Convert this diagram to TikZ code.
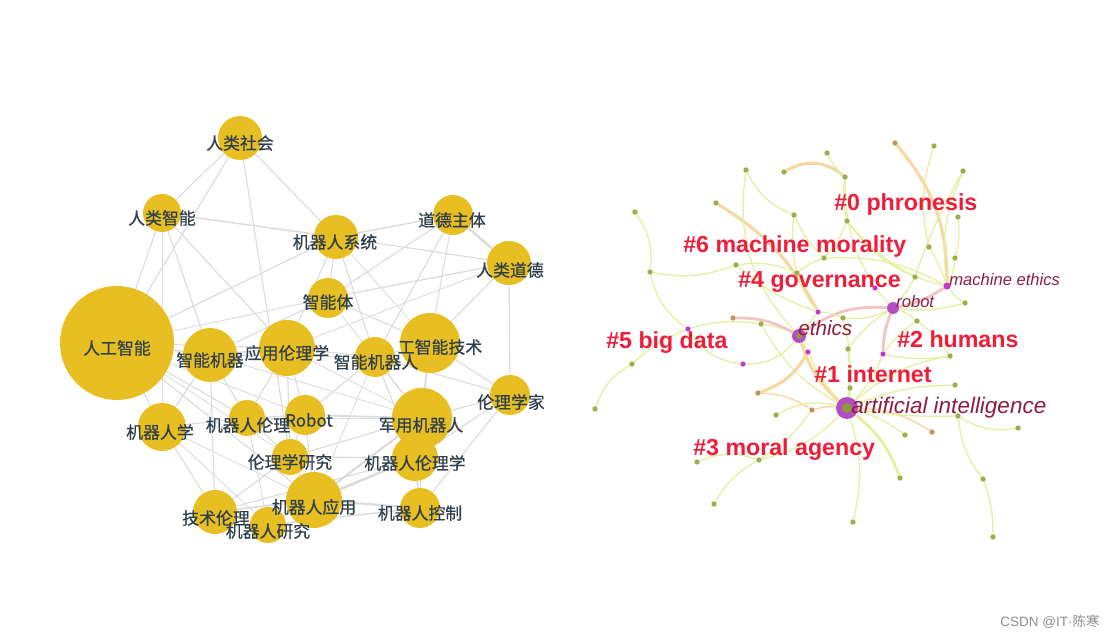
\documentclass[tikz,border=0pt]{standalone}
\usepackage{fontspec}
\setmainfont{Liberation Sans}
\newfontfamily\cjk[FakeBold=0.5]{Noto Sans CJK SC}
\newfontfamily\cjkplain{Noto Sans CJK SC}
\usetikzlibrary{backgrounds}
\definecolor{cgold}{HTML}{E8BF22}
\definecolor{cslate}{HTML}{2E3E4A}
\definecolor{cedge}{HTML}{DCDCDC}
\definecolor{chot}{HTML}{EE1D3A}
\definecolor{cwine}{HTML}{8E1E40}
\definecolor{clime}{HTML}{E3F0A0}
\definecolor{cpeach}{HTML}{F6D8A2}
\definecolor{crose}{HTML}{F3C4C4}
\definecolor{cleaf}{HTML}{9CAF48}
\definecolor{cleafb}{HTML}{B49C5C}
\definecolor{chub}{HTML}{B54DC2}
\definecolor{ccore}{HTML}{8C9A3A}
\definecolor{chit}{HTML}{C838C8}

\begin{document}
\begin{tikzpicture}[x=0.25mm,y=-0.25mm,
  kw/.style={circle,fill=cgold,inner sep=0pt,minimum size=#1*0.5mm},
  kwlab/.style={font=\cjk\fontsize{12}{14}\selectfont,text=cslate,inner sep=0pt},
  link/.style={draw=cedge,line width=#1},
  leaf/.style={circle,fill=cleaf,inner sep=0pt,minimum size=1.35mm},
  leafb/.style={leaf,fill=cleafb},
  hit/.style={circle,fill=chit,inner sep=0pt,minimum size=1.3mm},
  hubv/.style={circle,fill=chub,inner sep=0pt,minimum size=#1},
  core/.style={circle,fill=ccore,inner sep=0pt,minimum size=#1},
  ylw/.style={draw=clime,line width=0.9pt},
  ylwk/.style={draw=clime,line width=2pt},
  peach/.style={draw=cpeach,line width=1pt},
  peachk/.style={draw=cpeach,line width=2.2pt},
  rosek/.style={draw=crose,line width=2pt},
  clus/.style={font=\bfseries\fontsize{16.5}{18}\selectfont,text=chot,anchor=base west,inner sep=0pt},
  term/.style={font=\itshape\fontsize{#1}{#1}\selectfont,text=cwine,anchor=base west,inner sep=0pt}
]
\useasboundingbox (0,0) rectangle (1119,642);
\begin{scope}[on background layer]
\fill[white] (0,0) rectangle (1119,642);
\end{scope}

% keyword network
\foreach \n/\x/\y/\r in {rs/240/138/22, rz/162/213/19, jx/336/237/22, dd/453/215/20,
  rd/509/263/22, znt/328/298/20, rg/117/343/57, znj/210/355/27, yl/287/348/28,
  znr/375/357/20, rgj/430/343/30, llj/510/395/20, jrx/162/427/24, jrl/247/418/18,
  rob/305/415/20, jy/422/418/30, llyj/290/457/18, jrll/415/458/23, jyy/314/500/28,
  jsl/215/512/22, jryj/268/525/18, jk/420/508/20}
  \node[kw=\r] (\n) at (\x,\y) {};

\begin{scope}[on background layer]
\foreach \a/\b/\w in {rs/rz/0.8, rs/jx/0.8, rs/rg/0.8, rs/llyj/0.8, rz/jx/1.0, rz/rg/0.8,
  rz/znj/0.8, rz/yl/0.8, rz/jrx/0.6, dd/jx/1.0, dd/rd/1.8, dd/rgj/0.8, dd/znt/0.8,
  dd/znr/0.8, rd/jx/0.8, rd/znt/0.9, rd/llj/0.8, rd/rgj/0.8, rd/yl/0.6, jx/znt/0.8,
  jx/znr/0.8, jx/rg/0.8, jx/yl/0.8, jx/rgj/0.6, znt/rg/0.6, znt/znj/0.8, znt/rgj/0.8,
  znt/jy/0.6, rgj/llj/0.8, rgj/jy/0.9, rgj/znr/0.8, rgj/jrll/0.6, llj/jy/0.8,
  llj/jrll/0.8, llj/jk/0.8, llj/znr/0.8, rg/znj/1.2, rg/jrx/0.8, rg/jrl/0.8,
  rg/jyy/0.8, rg/yl/0.8, rg/rob/0.6, rg/llyj/0.6, znj/yl/1.0, znj/jrx/0.8,
  znj/jrl/0.8, znj/jsl/0.8, znj/znr/0.6, znj/jy/0.6, yl/znr/0.8, yl/rob/0.8,
  yl/jrl/0.8, yl/llyj/0.8, yl/jy/0.6, znr/jy/0.9, znr/rob/0.8, znr/jrll/0.8,
  znr/jyy/0.6, jrx/jsl/0.8, jrx/jrl/0.8, jrx/jyy/0.6, jrx/jryj/0.6, jrl/rob/0.8,
  jrl/llyj/0.8, jrl/jryj/0.6, jrl/jy/0.6, rob/jy/1.2, rob/llyj/0.8, rob/jyy/0.8,
  jy/jrll/1.2, jy/jyy/1.5, jy/llyj/0.8, jrll/jyy/1.8, jrll/jk/1.2, jrll/llyj/1.0,
  llyj/jyy/1.0, jyy/jk/1.5, jyy/jsl/1.2, jyy/jryj/1.0, jsl/jryj/0.8, jryj/jk/1.0,
  jsl/llyj/0.8, jk/jy/0.8, jsl/jrll/0.8}
  \draw[link=\w pt] (\a) -- (\b);
\end{scope}

\foreach \n/\x/\y/\t in {rs/240/143/人类社会, rz/162/218/人类智能, jx/335/242/机器人系统,
  dd/452/220/道德主体, rd/510/270/人类道德, znt/328/302/智能体, rg/117/348/人工智能,
  znj/210/360/智能机器, yl/287/353/应用伦理学, znr/376/362/智能机器人,
  rgj/440/347/工智能技术, llj/511/402/伦理学家, jrx/160/432/机器人学,
  jrl/248/425/机器人伦理, rob/309/420/Robot, jy/421/425/军用机器人,
  llyj/290/462/伦理学研究, jrll/415/463/机器人伦理学, jyy/314/507/机器人应用,
  jsl/216/518/技术伦理, jryj/268/531/机器人研究, jk/420/513/机器人控制}
  \node[kwlab] (\n-t) at (\x,\y) {\t};

% cluster view
\foreach \n/\x/\y in {g1/827/153, g2/746/170, g3/784/172, g4/716/203, g5/635/212,
  g6/794/215, g7/650/272, g8/736/265, g9/797/273, g10/824/258, g12/761/324,
  g14/845/177, g16/934/146, g17/963/171, g18/958/217, g19/847/221, g20/929/247,
  g21/955/258, g22/915/277, g23/965/303, g24/917/321, g25/843/318, g26/848/349,
  g27/850/388, g28/776/415, g30/905/435, g32/632/364, g33/595/409, g35/697/462,
  g36/759/460, g37/714/504, g38/950/356, g39/955/385, g40/958/416, g41/1018/428,
  g42/900/478, g43/983/479, g44/853/522, g45/993/537}
  \node[leaf] (\n) at (\x,\y) {};
\foreach \n/\x/\y in {g11/733/318, g15/895/143, g29/812/410, g31/932/432, g34/758/393}
  \node[leafb] (\n) at (\x,\y) {};
\foreach \n/\x/\y in {m1/818/312, m2/808/352, m3/883/354, m4/875/288, m5/743/364, m6/688/329}
  \node[hit] (\n) at (\x,\y) {};
\node[hubv=5.5mm] (ai) at (847,408) {};
\node[core=2.5mm] (ai-c) at (847,408) {};
\node[hubv=3.5mm] (eth) at (799,336) {};
\node[core=1.5mm] (eth-c) at (799,336) {};
\node[hubv=3mm] (rbt) at (893,308) {};
\node[hit,minimum size=1.8mm] (me) at (947,286) {};

\begin{scope}[on background layer]
\foreach \a/\b/\s/\d in {g5/g7/ylw/20, g7/m6/ylw/-20, m6/m5/ylw/-25, m5/eth/ylw/-25,
  m6/g12/ylw/12, g12/eth/ylw/8, g33/g32/ylw/20, g32/m6/ylw/10, g11/eth/rosek/15,
  g4/m1/peachk/15, g2/eth/ylw/-25, g3/g14/peachk/35, g1/g14/ylw/-10, g14/m4/ylw/-15,
  g14/g19/ylw/-10, g6/g9/ylw/-10, g9/m1/ylw/-10, g8/g9/ylw/15, g9/g10/ylw/10,
  g10/g19/ylw/-10, g19/me/ylw/-20, g10/me/ylw/15, g6/g10/ylw/-10, g15/me/peachk/20,
  me/rbt/rosek/10, g16/g20/ylw/-15, g20/me/ylw/5, g17/g22/ylw/-5, g22/rbt/ylw/5,
  g18/g21/ylw/10, g21/me/ylw/10, g23/rbt/ylw/10, g24/rbt/ylw/-10, g24/m3/ylw/-10,
  g25/rbt/ylw/-15, eth/rbt/rosek/20, rbt/m3/rosek/-10, eth/m1/ylw/0, eth/ai/peachk/-15,
  eth/m2/ylw/0, m2/ai/ylw/-10, m3/ai/ylw/10, g25/ai/ylw/10, g26/ai/ylw/5, g27/ai/ylw/5,
  g12/ai/ylw/-15, g28/ai/ylw/20, g29/ai/peach/10, g34/m2/peachk/-20, g34/g29/peach/15,
  g35/g36/ylw/20, g37/g36/ylw/15, g36/ai/ylw/-15, g36/g29/ylw/-10, ai/g30/ylw/10,
  ai/g31/peach/15, ai/g42/ylwk/15, ai/g44/ylw/15, ai/g40/ylw/-5, g40/g41/ylw/-20,
  g40/g43/ylw/-15, g43/g45/ylw/10, g39/ai/ylw/-10, g38/ai/ylw/-15, g38/m3/ylw/10,
  rbt/g26/ylw/-10, m1/g25/ylw/10, g8/m1/ylw/-10, g19/g22/ylw/-10, g17/me/ylw/-15,
  g23/me/ylw/10, m4/rbt/ylw/0, g24/g38/ylw/10, g2/g6/ylw/-20, g7/g8/ylw/-15}
  \draw[\s] (\a) to[bend left=\d] (\b);
\end{scope}

\node[clus] (c0) at (834,210) {\#0 phronesis};
\node[clus] (c6) at (683,252) {\#6 machine morality};
\node[clus] (c4) at (738,287) {\#4 governance};
\node[clus] (c5) at (606,348) {\#5 big data};
\node[clus] (c2) at (897,347) {\#2 humans};
\node[clus] (c1) at (814,382) {\#1 internet};
\node[clus] (c3) at (693,455) {\#3 moral agency};
\node[term=16] (t-ai) at (851,413) {artificial intelligence};
\node[term=14.7] (t-eth) at (798,335) {ethics};
\node[term=11.8] (t-rbt) at (896,307) {robot};
\node[term=11.8] (t-me) at (949,285) {machine ethics};

\node[font=\fontsize{9.6}{11}\selectfont,text=black!45,inner sep=0pt] (mark) at (1050,622) {CSDN @IT·{\cjkplain 陈寒}};
\end{tikzpicture}
\end{document}
